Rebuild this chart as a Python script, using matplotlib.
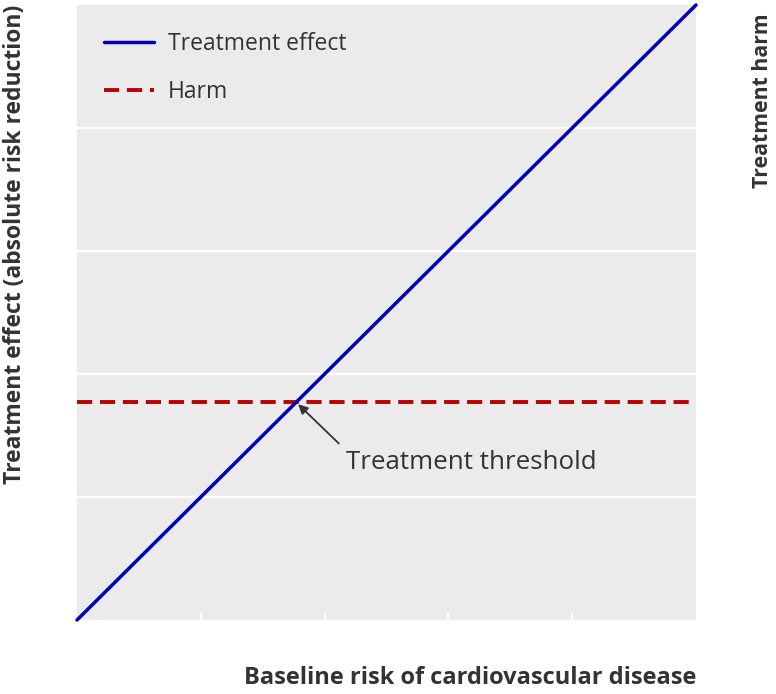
import matplotlib
matplotlib.use("Agg")
import matplotlib.pyplot as plt
import numpy as np

# Data
baseline_risk = [0, 5]
treatment_effect = [0, 5]
harm_level = 1.77
x_ticks = [1, 2, 3, 4]
y_grid = [1, 2, 3, 4]
threshold_x = 1.77
threshold_y = 1.77

plt.rcParams['font.family'] = ['Open Sans', 'DejaVu Sans']

fig = plt.figure(figsize=(7.76, 6.94), dpi=100)
ax = fig.add_axes([77/776, 1-620/694, 619/776, 615/694])
ax.set_facecolor('#EBEBEB')
ax.set_xlim(0, 5)
ax.set_ylim(0, 5)
for s in ax.spines.values():
    s.set_visible(False)

ax.set_yticks(y_grid)
ax.grid(axis='y', color='white', linewidth=1.6)
ax.set_axisbelow(True)
ax.tick_params(axis='y', length=0, labelleft=False)
ax.set_xticks(x_ticks)
ax.tick_params(axis='x', direction='in', length=5, width=1.6, color='white', labelbottom=False)

ax.plot(baseline_risk, treatment_effect, color='#0000BB', lw=2.5, solid_capstyle='round',
        label='Treatment effect', clip_on=False, zorder=3)
ax.axhline(harm_level, color='#BB0000', lw=2.8, ls=(0, (3.9, 2.0)), label='Harm', zorder=2)

ax.annotate('Treatment threshold', xy=(threshold_x, threshold_y), xytext=(2.17, 1.28),
            fontsize=18.6, color='#333333', va='center', ha='left',
            arrowprops=dict(arrowstyle='-|>', color='#333333', lw=1.3, relpos=(0, 1),
                            shrinkA=4, shrinkB=2, mutation_scale=14))

leg = ax.legend(loc='upper left', bbox_to_anchor=(0.01, 0.99), frameon=False, fontsize=16.5,
                handlelength=2.2, handletextpad=0.6, labelspacing=1.05, labelcolor='#333333')

fig.text(696/776, 1-678/694, 'Baseline risk of cardiovascular disease', ha='right', va='center',
         fontsize=17, fontweight='bold', color='#333333')
fig.text(15/776, 1-5/694, 'Treatment effect (absolute risk reduction)', rotation=90,
         ha='center', va='top', fontsize=16.5, fontweight='bold', color='#333333')
fig.text(762/776, 1-13/694, 'Treatment harm', rotation=90, ha='center', va='top',
         fontsize=15.3, fontweight='bold', color='#333333')

fig.savefig('out.png', dpi=100)
